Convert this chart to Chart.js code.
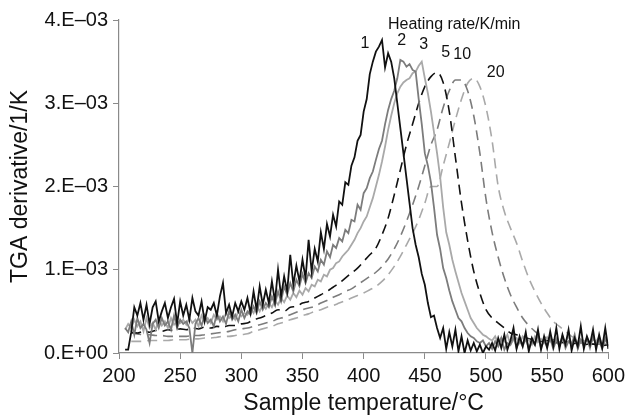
<!DOCTYPE html>
<html>
<head>
<meta charset="utf-8">
<script src="https://cdn.jsdelivr.net/npm/chart.js@4/dist/chart.umd.min.js"></script>
<style>
  html, body { margin: 0; padding: 0; background: #fff; }
  #wrap { width: 630px; height: 415px; }
</style>
</head>
<body>
<div id="wrap"><canvas id="tga" width="630" height="415"></canvas></div>
<script>
// ---------------- DATA (y in units of 1E-3 1/K) ----------------

// solid curves sampled every 2.5 C from 205 to 600
const fineStart = 205, fineStep = 2.5;
const rate1 = [
  0.04, 0.04, 0.25, 0.55, 0.45, 0.60, 0.40, 0.58, 0.35, 0.55, 0.62, 0.38, 0.50, 0.60, 0.42, 0.55, 0.65, 0.35, 0.62, 0.45,
  0.58, 0.40, 0.66, 0.50, 0.45, 0.62, 0.38, 0.55, 0.52, 0.60, 0.45, 0.68, 0.84, 0.48, 0.58, 0.44, 0.60, 0.50, 0.62, 0.52,
  0.66, 0.48, 0.74, 0.52, 0.80, 0.58, 0.76, 0.60, 0.86, 0.62, 1.00, 0.68, 0.92, 0.74, 1.18, 0.82, 1.05, 0.86, 1.12, 0.90,
  1.36, 0.98, 1.25, 1.10, 1.45, 1.25, 1.55, 1.40, 1.66, 1.52, 1.82, 1.78, 2.05, 2.02, 2.25, 2.35, 2.55, 2.62, 2.90, 3.05,
  3.35, 3.50, 3.62, 3.68, 3.76, 3.43, 3.60, 3.50, 3.30, 3.00, 2.70, 2.40, 2.10, 1.80, 1.50, 1.30, 1.15, 0.95, 0.82, 0.60,
  0.43, 0.45, 0.30, 0.18, 0.30, 0.05, 0.25, 0.08, 0.28, 0.02, 0.20, 0.00, 0.15, 0.03, 0.12, 0.02, 0.10, 0.00, 0.08, 0.04,
  0.12, 0.03, 0.18, 0.06, 0.22, 0.04, 0.15, 0.30, 0.05, 0.20, 0.08, 0.25, 0.02, 0.18, 0.10, 0.28, 0.04, 0.20, 0.06, 0.26,
  0.08, 0.30, 0.05, 0.22, 0.10, 0.28, 0.03, 0.18, 0.08, 0.32, 0.05, 0.20, 0.10, 0.28, 0.04, 0.22, 0.06, 0.30, 0.05
];
const rate2 = [
  0.30, 0.25, 0.38, 0.22, 0.42, 0.30, 0.35, 0.28, 0.12, 0.35, 0.40, 0.30, 0.42, 0.33, 0.38, 0.28, 0.45, 0.30, 0.40, 0.35,
  0.38, 0.30, 0.00, 0.35, 0.42, 0.33, 0.45, 0.36, 0.40, 0.32, 0.48, 0.38, 0.44, 0.35, 0.50, 0.40, 0.46, 0.38, 0.52, 0.42,
  0.50, 0.46, 0.56, 0.48, 0.62, 0.52, 0.60, 0.55, 0.68, 0.58, 0.74, 0.62, 0.80, 0.70, 0.84, 0.74, 0.88, 0.80, 0.95, 0.84,
  0.96, 0.90, 1.04, 0.98, 1.12, 1.06, 1.22, 1.15, 1.30, 1.26, 1.38, 1.34, 1.48, 1.44, 1.60, 1.58, 1.78, 1.72, 1.92, 1.98,
  2.10, 2.18, 2.32, 2.45, 2.55, 2.75, 2.92, 3.05, 3.15, 3.30, 3.52, 3.50, 3.44, 3.47, 3.40, 3.38, 3.05, 2.75, 2.40, 2.25,
  2.05, 1.75, 1.42, 1.25, 1.02, 0.90, 0.75, 0.62, 0.52, 0.42, 0.38, 0.30, 0.24, 0.20, 0.18, 0.14, 0.12, 0.15, 0.08, 0.12,
  0.05, 0.14, 0.08, 0.18, 0.04, 0.12, 0.10, 0.20, 0.06, 0.15, 0.08, 0.18, 0.05, 0.14, 0.10, 0.22, 0.06, 0.15, 0.08, 0.18,
  0.05, 0.16, 0.08, 0.20, 0.06, 0.14, 0.10, 0.22, 0.05, 0.16, 0.08, 0.18, 0.06, 0.20, 0.10, 0.15, 0.05, 0.18, 0.08
];
const rate3 = [
  0.28, 0.35, 0.30, 0.40, 0.32, 0.38, 0.26, 0.42, 0.30, 0.36, 0.28, 0.40, 0.33, 0.38, 0.30, 0.42, 0.34, 0.38, 0.36, 0.40,
  0.34, 0.42, 0.36, 0.40, 0.32, 0.45, 0.38, 0.42, 0.36, 0.46, 0.40, 0.44, 0.38, 0.48, 0.42, 0.46, 0.40, 0.50, 0.44, 0.48,
  0.46, 0.54, 0.48, 0.57, 0.50, 0.58, 0.53, 0.60, 0.55, 0.63, 0.58, 0.66, 0.61, 0.69, 0.64, 0.72, 0.67, 0.75, 0.70, 0.78,
  0.74, 0.82, 0.80, 0.88, 0.86, 0.94, 0.92, 1.00, 1.02, 1.08, 1.10, 1.16, 1.20, 1.24, 1.30, 1.36, 1.44, 1.50, 1.58, 1.64,
  1.75, 1.86, 2.00, 2.14, 2.30, 2.48, 2.68, 2.85, 3.00, 3.12, 3.20, 3.25, 3.28, 3.30, 3.36, 3.38, 3.45, 3.50, 3.30, 3.12,
  2.90, 2.65, 2.40, 2.12, 1.75, 1.45, 1.30, 1.12, 0.98, 0.85, 0.72, 0.62, 0.52, 0.42, 0.36, 0.30, 0.26, 0.22, 0.20, 0.17,
  0.15, 0.20, 0.12, 0.18, 0.14, 0.22, 0.10, 0.16, 0.18, 0.12, 0.20, 0.14, 0.16, 0.10, 0.20, 0.13, 0.17, 0.12, 0.19, 0.14,
  0.12, 0.18, 0.10, 0.16, 0.14, 0.20, 0.11, 0.17, 0.13, 0.15, 0.10, 0.18, 0.12, 0.16, 0.14, 0.19, 0.10, 0.15, 0.12
];

// dashed curves sampled every 5 C from 210 to 600
const coarseStart = 210, coarseStep = 5;
const rate5 = [
  0.25, 0.24, 0.26, 0.25, 0.27, 0.26, 0.28, 0.27, 0.29, 0.28,
  0.30, 0.29, 0.31, 0.30, 0.32, 0.31, 0.33, 0.33, 0.35, 0.36,
  0.40, 0.42, 0.45, 0.48, 0.52, 0.50, 0.55, 0.56, 0.60, 0.62,
  0.66, 0.70, 0.74, 0.79, 0.84, 0.90, 0.96, 1.02, 1.10, 1.18,
  1.26, 1.42, 1.62, 1.90, 2.20, 2.50, 2.75, 3.00, 3.20, 3.32,
  3.37, 3.25, 2.90, 2.35, 1.80, 1.35, 0.98, 0.72, 0.52, 0.42,
  0.36, 0.30, 0.24, 0.22, 0.20, 0.17, 0.16, 0.14, 0.15, 0.12,
  0.13, 0.12, 0.11, 0.12, 0.10, 0.11, 0.10, 0.09, 0.10
];
const rate10 = [
  0.24, 0.23, 0.22, 0.22, 0.21, 0.21, 0.20, 0.20, 0.20, 0.20,
  0.21, 0.21, 0.22, 0.23, 0.24, 0.25, 0.26, 0.28, 0.29, 0.30,
  0.32, 0.34, 0.36, 0.38, 0.41, 0.43, 0.46, 0.49, 0.52, 0.54,
  0.56, 0.60, 0.63, 0.67, 0.70, 0.74, 0.77, 0.82, 0.87, 0.92,
  0.97, 1.04, 1.13, 1.25, 1.40, 1.58, 1.78, 2.00, 2.25, 2.50,
  2.68, 2.95, 3.15, 3.28, 3.28, 3.15, 2.85, 2.40, 1.85, 1.45,
  1.15, 0.90, 0.70, 0.55, 0.42, 0.33, 0.26, 0.21, 0.18, 0.16,
  0.15, 0.14, 0.13, 0.12, 0.12, 0.11, 0.11, 0.10, 0.10
];
const rate20 = [
  0.14, 0.14, 0.14, 0.15, 0.15, 0.15, 0.15, 0.16, 0.16, 0.16,
  0.17, 0.17, 0.18, 0.18, 0.19, 0.20, 0.20, 0.21, 0.22, 0.23,
  0.26, 0.28, 0.30, 0.32, 0.35, 0.37, 0.40, 0.42, 0.45, 0.47,
  0.50, 0.52, 0.55, 0.57, 0.60, 0.63, 0.66, 0.69, 0.72, 0.76,
  0.80, 0.86, 0.94, 1.04, 1.16, 1.30, 1.44, 1.60, 1.80, 2.00,
  2.00, 2.25, 2.52, 2.80, 3.05, 3.24, 3.30, 3.20, 2.95, 2.55,
  2.00, 1.70, 1.50, 1.32, 1.10, 0.90, 0.74, 0.60, 0.48, 0.38,
  0.32, 0.26, 0.20, 0.17, 0.15, 0.13, 0.12, 0.12, 0.11
];

const yTickLabels = ['0.E+00', '1.E\u201303', '2.E\u201303', '3.E\u201303', '4.E\u201303'];
const xTicks = [200, 250, 300, 350, 400, 450, 500, 550, 600];

// curve labels: [text, temperature, value]
const curveLabels = [
  ['Heating rate/K/min', 474, 3.94],
  ['1', 401, 3.72],
  ['2', 431, 3.75],
  ['3', 449, 3.70],
  ['5', 467, 3.61],
  ['10', 480.5, 3.58],
  ['20', 508, 3.37]
];

// -----------------------------------------------------------------

const FONT = '"Liberation Sans", Arial, Helvetica, sans-serif';

function toPoints(values, start, step) {
  return values.map((v, i) => ({ x: start + step * i, y: v }));
}

function series(values, start, step, color, dashed, width) {
  return {
    data: toPoints(values, start, step),
    borderColor: color,
    borderWidth: width,
    borderDash: dashed ? [10, 6] : [],
    pointRadius: 0,
    tension: dashed ? 0.4 : 0,
    cubicInterpolationMode: dashed ? 'monotone' : 'default',
    fill: false
  };
}

// curve numbers and the "Heating rate" caption, placed in data coordinates
const labelPlugin = {
  id: 'curveLabels',
  afterDatasetsDraw(chart) {
    const { ctx, scales } = chart;
    ctx.save();
    ctx.fillStyle = '#111';
    ctx.textAlign = 'center';
    ctx.textBaseline = 'middle';
    ctx.font = '16px ' + FONT;
    curveLabels.forEach(([txt, t, v]) => {
      ctx.fillText(txt, scales.x.getPixelForValue(t), scales.y.getPixelForValue(v));
    });
    ctx.restore();
  }
};

new Chart(document.getElementById('tga'), {
  type: 'line',
  data: {
    datasets: [
      series(rate1, fineStart, fineStep, '#111111', false, 1.8),
      series(rate2, fineStart, fineStep, '#7c7c7c', false, 1.8),
      series(rate3, fineStart, fineStep, '#a9a9a9', false, 1.8),
      series(rate5, coarseStart, coarseStep, '#111111', true, 1.6),
      series(rate10, coarseStart, coarseStep, '#7c7c7c', true, 1.6),
      series(rate20, coarseStart, coarseStep, '#a9a9a9', true, 1.6)
    ]
  },
  options: {
    responsive: false,
    animation: false,
    layout: { padding: { top: 20, right: 19, left: 0, bottom: 0 } },
    plugins: { legend: { display: false }, tooltip: { enabled: false } },
    scales: {
      x: {
        type: 'linear',
        min: 200, max: 600,
        afterBuildTicks: (s) => { s.ticks = xTicks.map(v => ({ value: v })); },
        afterFit: (s) => { s.height = 62; },
        border: { color: '#8a8a8a', width: 1.2 },
        grid: { drawOnChartArea: false, color: '#8a8a8a', tickLength: 6 },
        ticks: { color: '#111', font: { family: FONT, size: 20 }, padding: 5, maxRotation: 0 },
        title: { display: true, text: 'Sample temperature/\u00b0C', color: '#111',
                 font: { family: FONT, size: 23, lineHeight: 1 }, padding: { top: 0, bottom: 0 } }
      },
      y: {
        min: 0, max: 4,
        afterBuildTicks: (s) => { s.ticks = yTickLabels.map((_, i) => ({ value: i })); },
        afterFit: (s) => { s.width = 119; },
        border: { color: '#8a8a8a', width: 1.2 },
        grid: { drawOnChartArea: false, color: '#8a8a8a', tickLength: 6 },
        ticks: { color: '#111', font: { family: FONT, size: 20 }, padding: 5,
                 callback: (v) => yTickLabels[v] },
        title: { display: true, text: 'TGA derivative/1/K', color: '#111',
                 font: { family: FONT, size: 23, lineHeight: 1 }, padding: { top: 9, bottom: 0 } }
      }
    }
  },
  plugins: [labelPlugin]
});
</script>
</body>
</html>
